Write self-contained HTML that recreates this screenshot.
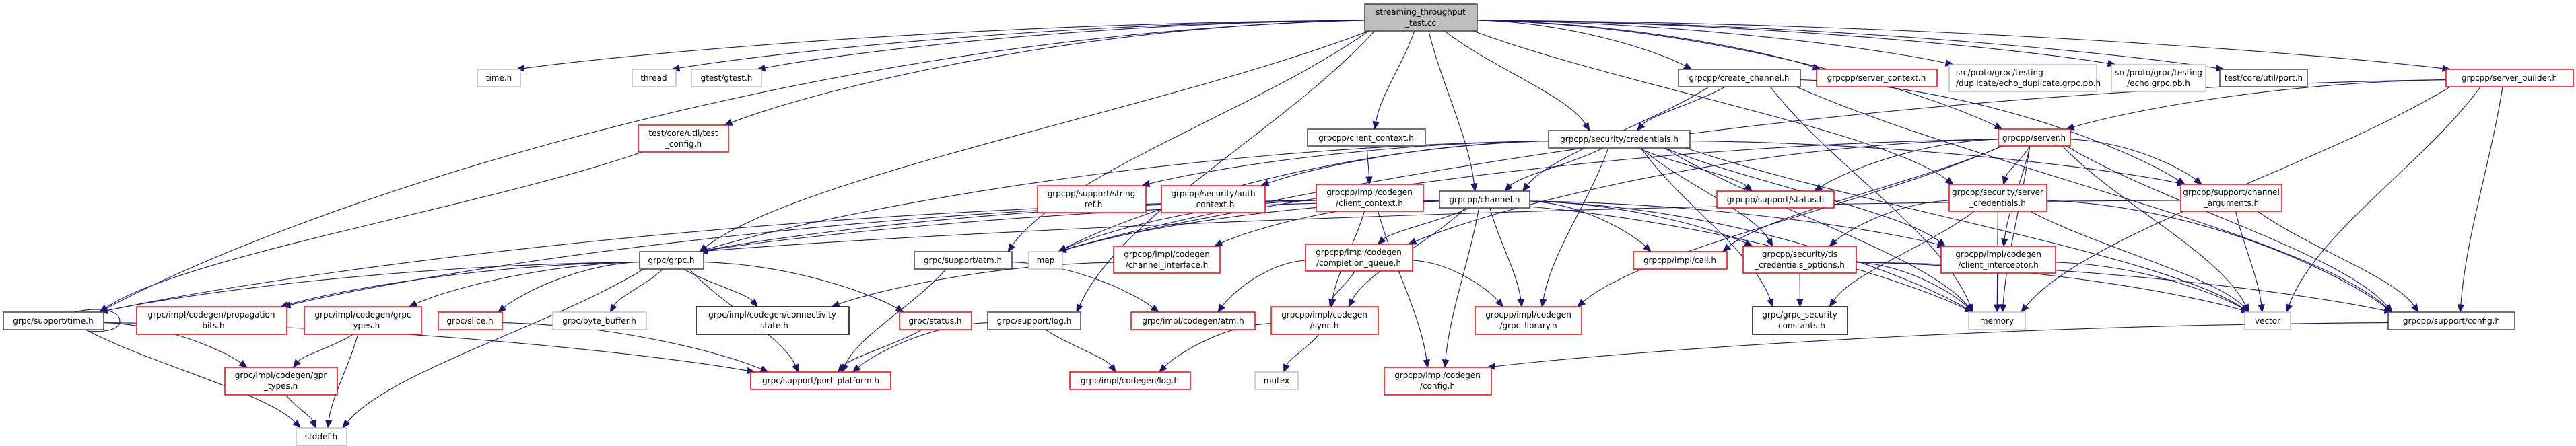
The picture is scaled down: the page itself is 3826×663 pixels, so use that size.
<!DOCTYPE html>
<html><head><meta charset="utf-8">
<style>
html,body{margin:0;padding:0;background:#fff;}
svg{display:block;}
text{font-family:"DejaVu Sans","Liberation Sans",sans-serif;font-size:12px;fill:#000;}
</style></head>
<body>
<svg id="g" width="3826" height="663" viewBox="0 0 3826 663" xmlns="http://www.w3.org/2000/svg">
<g id="edges" fill="none" stroke="#191970" stroke-width="1.1"></g>
<g id="heads" fill="#191970" stroke="#191970"></g>
<g id="nodes" stroke-width="1.5">
<rect x="2027" y="6" width="167" height="40" fill="#bfbfbf" stroke="#404040"/>
<text x="2110" y="22" text-anchor="middle">streaming_throughput</text>
<text x="2110" y="38" text-anchor="middle">_test.cc</text>

<rect x="709" y="103" width="64" height="26" fill="#fff" stroke="#bfbfbf"/><text x="741" y="120" text-anchor="middle">time.h</text>
<rect x="939" y="103" width="65" height="26" fill="#fff" stroke="#bfbfbf"/><text x="971" y="120" text-anchor="middle">thread</text>
<rect x="1027" y="103" width="104" height="26" fill="#fff" stroke="#bfbfbf"/><text x="1079" y="120" text-anchor="middle">gtest/gtest.h</text>

<rect x="948" y="186" width="134" height="40" fill="#fff" stroke="#ff0000"/>
<text x="1015" y="202" text-anchor="middle">test/core/util/test</text><text x="1015" y="218" text-anchor="middle">_config.h</text>

<rect x="950" y="374" width="95" height="26" fill="#fff" stroke="#404040"/><text x="997" y="391" text-anchor="middle">grpc/grpc.h</text>
<rect x="5" y="464" width="149" height="26" fill="#fff" stroke="#404040"/><text x="79" y="481" text-anchor="middle">grpc/support/time.h</text>
<rect x="203" y="456" width="223" height="41" fill="#fff" stroke="#ff0000"/>
<text x="314" y="472" text-anchor="middle">grpc/impl/codegen/propagation</text><text x="314" y="488" text-anchor="middle">_bits.h</text>
<rect x="452" y="456" width="174" height="41" fill="#fff" stroke="#ff0000"/>
<text x="539" y="472" text-anchor="middle">grpc/impl/codegen/grpc</text><text x="539" y="488" text-anchor="middle">_types.h</text>
<rect x="651" y="464" width="95" height="26" fill="#fff" stroke="#ff0000"/><text x="698" y="481" text-anchor="middle">grpc/slice.h</text>
<rect x="821" y="464" width="139" height="26" fill="#fff" stroke="#bfbfbf"/><text x="890" y="481" text-anchor="middle">grpc/byte_buffer.h</text>
<rect x="334" y="546" width="167" height="41" fill="#fff" stroke="#ff0000"/>
<text x="417" y="562" text-anchor="middle">grpc/impl/codegen/gpr</text><text x="417" y="578" text-anchor="middle">_types.h</text>
<rect x="440" y="636" width="75" height="26" fill="#fff" stroke="#bfbfbf"/><text x="477" y="653" text-anchor="middle">stddef.h</text>

<rect x="1358" y="374" width="145" height="26" fill="#fff" stroke="#404040"/><text x="1430" y="391" text-anchor="middle">grpc/support/atm.h</text>
<rect x="1528" y="374" width="50" height="26" fill="#fff" stroke="#bfbfbf"/><text x="1553" y="391" text-anchor="middle">map</text>
<rect x="1541" y="276" width="161" height="40" fill="#fff" stroke="#ff0000"/>
<text x="1621" y="292" text-anchor="middle">grpcpp/support/string</text><text x="1621" y="308" text-anchor="middle">_ref.h</text>
<rect x="1725" y="276" width="154" height="40" fill="#fff" stroke="#ff0000"/>
<text x="1802" y="292" text-anchor="middle">grpcpp/security/auth</text><text x="1802" y="308" text-anchor="middle">_context.h</text>
<rect x="1955" y="274" width="159" height="40" fill="#fff" stroke="#ff0000"/>
<text x="2034" y="290" text-anchor="middle">grpcpp/impl/codegen</text><text x="2034" y="306" text-anchor="middle">/client_context.h</text>
<rect x="1942" y="192" width="175" height="25" fill="#fff" stroke="#404040"/><text x="2029" y="209" text-anchor="middle">grpcpp/client_context.h</text>
<rect x="1654" y="366" width="158" height="40" fill="#fff" stroke="#ff0000"/>
<text x="1733" y="382" text-anchor="middle">grpcpp/impl/codegen</text><text x="1733" y="398" text-anchor="middle">/channel_interface.h</text>
<rect x="1939" y="363" width="159" height="40" fill="#fff" stroke="#ff0000"/>
<text x="2018" y="379" text-anchor="middle">grpcpp/impl/codegen</text><text x="2018" y="395" text-anchor="middle">/completion_queue.h</text>
<rect x="1034" y="456" width="227" height="41" fill="#fff" stroke="#000"/>
<text x="1147" y="472" text-anchor="middle">grpc/impl/codegen/connectivity</text><text x="1147" y="488" text-anchor="middle">_state.h</text>
<rect x="1336" y="464" width="107" height="26" fill="#fff" stroke="#ff0000"/><text x="1389" y="481" text-anchor="middle">grpc/status.h</text>
<rect x="1467" y="464" width="138" height="26" fill="#fff" stroke="#404040"/><text x="1536" y="481" text-anchor="middle">grpc/support/log.h</text>
<rect x="1680" y="464" width="184" height="26" fill="#fff" stroke="#ff0000"/><text x="1772" y="481" text-anchor="middle">grpc/impl/codegen/atm.h</text>
<rect x="1888" y="456" width="159" height="41" fill="#fff" stroke="#ff0000"/>
<text x="1967" y="472" text-anchor="middle">grpcpp/impl/codegen</text><text x="1967" y="488" text-anchor="middle">/sync.h</text>
<rect x="1115" y="553" width="208" height="26" fill="#fff" stroke="#ff0000"/><text x="1219" y="570" text-anchor="middle">grpc/support/port_platform.h</text>
<rect x="1589" y="553" width="179" height="26" fill="#fff" stroke="#ff0000"/><text x="1678" y="570" text-anchor="middle">grpc/impl/codegen/log.h</text>
<rect x="1864" y="553" width="64" height="26" fill="#fff" stroke="#bfbfbf"/><text x="1896" y="570" text-anchor="middle">mutex</text>

<rect x="2493" y="103" width="181" height="26" fill="#fff" stroke="#404040"/><text x="2583" y="120" text-anchor="middle">grpcpp/create_channel.h</text>
<rect x="2698" y="103" width="179" height="26" fill="#fff" stroke="#ff0000"/><text x="2787" y="120" text-anchor="middle">grpcpp/server_context.h</text>
<rect x="2895" y="96" width="219" height="40" fill="#fff" stroke="#bfbfbf"/>
<text x="2905" y="112">src/proto/grpc/testing</text><text x="2905" y="128">/duplicate/echo_duplicate.grpc.pb.h</text>
<rect x="3136" y="96" width="140" height="40" fill="#fff" stroke="#bfbfbf"/>
<text x="3206" y="112" text-anchor="middle">src/proto/grpc/testing</text><text x="3206" y="128" text-anchor="middle">/echo.grpc.pb.h</text>
<rect x="3297" y="103" width="130" height="26" fill="#fff" stroke="#404040"/><text x="3362" y="120" text-anchor="middle">test/core/util/port.h</text>
<rect x="3633" y="103" width="189" height="26" fill="#fff" stroke="#ff0000"/><text x="3727" y="120" text-anchor="middle">grpcpp/server_builder.h</text>

<rect x="2300" y="194" width="210" height="26" fill="#fff" stroke="#404040"/><text x="2405" y="211" text-anchor="middle">grpcpp/security/credentials.h</text>
<rect x="2968" y="192" width="107" height="25" fill="#fff" stroke="#ff0000"/><text x="3021" y="209" text-anchor="middle">grpcpp/server.h</text>
<rect x="2138" y="284" width="134" height="25" fill="#fff" stroke="#404040"/><text x="2205" y="301" text-anchor="middle">grpcpp/channel.h</text>
<rect x="2550" y="284" width="174" height="25" fill="#fff" stroke="#ff0000"/><text x="2637" y="301" text-anchor="middle">grpcpp/support/status.h</text>
<rect x="2895" y="274" width="145" height="40" fill="#fff" stroke="#ff0000"/>
<text x="2967" y="290" text-anchor="middle">grpcpp/security/server</text><text x="2967" y="306" text-anchor="middle">_credentials.h</text>
<rect x="3239" y="274" width="150" height="40" fill="#fff" stroke="#ff0000"/>
<text x="3314" y="290" text-anchor="middle">grpcpp/support/channel</text><text x="3314" y="306" text-anchor="middle">_arguments.h</text>
<rect x="2426" y="374" width="139" height="26" fill="#fff" stroke="#ff0000"/><text x="2495" y="391" text-anchor="middle">grpcpp/impl/call.h</text>
<rect x="2589" y="366" width="168" height="40" fill="#fff" stroke="#ff0000"/>
<text x="2673" y="382" text-anchor="middle">grpcpp/security/tls</text><text x="2673" y="398" text-anchor="middle">_credentials_options.h</text>
<rect x="2883" y="366" width="170" height="40" fill="#fff" stroke="#ff0000"/>
<text x="2968" y="382" text-anchor="middle">grpcpp/impl/codegen</text><text x="2968" y="398" text-anchor="middle">/client_interceptor.h</text>
<rect x="2191" y="456" width="158" height="41" fill="#fff" stroke="#ff0000"/>
<text x="2270" y="472" text-anchor="middle">grpcpp/impl/codegen</text><text x="2270" y="488" text-anchor="middle">/grpc_library.h</text>
<rect x="2603" y="456" width="141" height="41" fill="#fff" stroke="#000"/>
<text x="2673" y="472" text-anchor="middle">grpc/grpc_security</text><text x="2673" y="488" text-anchor="middle">_constants.h</text>
<rect x="2924" y="464" width="84" height="26" fill="#fff" stroke="#bfbfbf"/><text x="2966" y="481" text-anchor="middle">memory</text>
<rect x="3334" y="464" width="68" height="26" fill="#fff" stroke="#bfbfbf"/><text x="3368" y="481" text-anchor="middle">vector</text>
<rect x="3547" y="464" width="188" height="26" fill="#fff" stroke="#404040"/><text x="3641" y="481" text-anchor="middle">grpcpp/support/config.h</text>
<rect x="2056" y="546" width="159" height="41" fill="#fff" stroke="#ff0000"/>
<text x="2135" y="562" text-anchor="middle">grpcpp/impl/codegen</text><text x="2135" y="578" text-anchor="middle">/config.h</text>
</g>
</svg>
<script>
var N={
M:[2027,6,167,40],timeh:[709,103,64,26],thread:[939,103,65,26],gtest:[1027,103,104,26],tcfg:[948,186,134,40],
grpch:[950,374,95,26],stime:[5,464,149,26],prop:[203,456,223,41],gtypes:[452,456,174,41],slice:[651,464,95,26],
bb:[821,464,139,26],gpr:[334,546,167,41],stddef:[440,636,75,26],satm:[1358,374,145,26],map:[1528,374,50,26],
sref:[1541,276,161,40],auth:[1725,276,154,40],ccc:[1955,274,159,40],cc:[1942,192,175,25],chif:[1654,366,158,40],
cq:[1939,363,159,40],conn:[1034,456,227,41],status:[1336,464,107,26],slog:[1467,464,138,26],catm:[1680,464,184,26],
sync:[1888,456,159,41],pp:[1115,553,208,26],clog:[1589,553,179,26],mutex:[1864,553,64,26],
cch:[2493,103,181,26],sctx:[2698,103,179,26],edup:[2895,96,219,40],echo:[3136,96,140,40],port:[3297,103,130,26],
sb:[3633,103,189,26],cred:[2300,194,210,26],server:[2968,192,107,25],chan:[2138,284,134,25],sstat:[2550,284,174,25],
scred:[2895,274,145,40],cargs:[3239,274,150,40],call:[2426,374,139,26],tls:[2589,366,168,40],ci:[2883,366,170,40],
glib:[2191,456,158,41],gsc:[2603,456,141,41],memory:[2924,464,84,26],vector:[3334,464,68,26],sconf:[3547,464,188,26],
cconf:[2056,546,159,41]};
var E=[
["M","timeh"],["M","thread"],["M","gtest"],["M","tcfg"],["M","grpch"],["M","stime"],["M","slog"],["M","satm"],
["M","cc"],["M","chan"],["M","cred"],["M","cch"],["M","sctx"],["M","edup"],["M","echo"],["M","port"],["M","sb"],
["M","server"],["M","scred"],
["tcfg","stime"],
["grpch","stime"],["grpch","prop"],["grpch","gtypes"],["grpch","slice"],["grpch","bb"],["grpch","stddef"],
["grpch","conn"],["grpch","status"],["grpch","pp"],
["stime","gpr"],["stime","stddef"],["stime","pp"],["gtypes","gpr"],["gtypes","stddef"],["gpr","stddef"],
["slice","pp"],["status","pp"],["slog","pp"],["slog","clog"],["satm","pp"],["satm","catm"],
["cc","ccc"],["ccc","grpch"],["ccc","map"],["ccc","sync"],["ccc","memory"],["ccc","stime"],["ccc","prop"],
["chan","grpch"],["chan","map"],["chan","chif"],["chan","cq"],["chan","call"],["chan","glib"],["chan","cconf"],
["chan","memory"],["chan","ci"],["chan","sync"],["chan","tls"],
["cred","chan"],["cred","sref"],["cred","auth"],["cred","map"],["cred","grpch"],["cred","sstat"],["cred","glib"],
["cred","gsc"],["cred","tls"],["cred","ci"],["cred","memory"],["cred","vector"],["cred","cargs"],
["cch","cred"],["cch","chan"],["cch","memory"],["cch","cargs"],["cch","sconf"],
["server","cq"],["server","call"],["server","scred"],["server","cargs"],["server","ci"],["server","memory"],
["server","vector"],["server","sconf"],["server","glib"],["server","sstat"],["server","map"],
["sb","server"],["sb","memory"],["sb","vector"],["sb","sconf"],["sb","map"],
["scred","tls"],["scred","gsc"],["scred","memory"],["scred","vector"],["scred","sconf"],
["cargs","grpch"],["cargs","vector"],["cargs","sconf"],
["tls","gsc"],["tls","memory"],["tls","vector"],["tls","sconf"],
["ci","memory"],["ci","vector"],
["cq","catm"],["cq","sync"],["cq","glib"],
["chif","conn"],["sync","clog"],["sync","mutex"],["sconf","cconf"],["ccc","cconf"]];
var eg=document.getElementById("edges"),hg=document.getElementById("heads"),ns="http://www.w3.org/2000/svg";
function cl(v,a,b){return Math.max(a,Math.min(b,v));}
E.forEach(function(e){
 var s=N[e[0]],t=N[e[1]];
 var scx=s[0]+s[2]/2,tcx=t[0]+t[2]/2;
 var sx=cl(scx+(tcx-scx)*0.12,s[0]+6,s[0]+s[2]-6),sy=s[1]+s[3];
 var tx=cl(tcx+(scx-tcx)*0.15,t[0]+6,t[0]+t[2]-6),ty=t[1];
 var dy=ty-sy, c1x,c1y,c2x,c2y;
 var side=false;
 if(dy<20){
   if(tcx<scx){sx=s[0];tx=t[0]+t[2];}else{sx=s[0]+s[2];tx=t[0];}
   sy=s[1]+s[3]/2;ty=t[1]+t[3]/2;dy=ty-sy;side=true;
 } else if(Math.abs(tcx-scx)>4*dy && (tcx<s[0]||tcx>s[0]+s[2])){
   sx=(tcx<scx)?s[0]:s[0]+s[2]; sy=s[1]+s[3]*0.6; dy=ty-sy;side=true;
 }
 if(side){
   c1x=sx+(tx-sx)*0.45;c1y=sy+dy*0.05;c2x=tx+(sx-tx)*0.15;c2y=ty-dy*0.35;
 } else {
   c1x=sx+(tx-sx)*0.3;c1y=sy+dy*0.35;c2x=tx-(tx-sx)*0.15;c2y=ty-Math.max(dy*0.35,10);
 }
 var dx=tx-c2x,ddy=ty-c2y,L=Math.sqrt(dx*dx+ddy*ddy)||1;dx/=L;ddy/=L;
 var bx=tx-dx*11,by=ty-ddy*11;
 var p=document.createElementNS(ns,"path");
 p.setAttribute("d","M"+sx+","+sy+" C"+c1x+","+c1y+" "+c2x+","+c2y+" "+bx+","+by);
 eg.appendChild(p);
 var h=document.createElementNS(ns,"polygon");
 h.setAttribute("points",tx+","+ty+" "+(bx-ddy*4.5)+","+(by+dx*4.5)+" "+(bx+ddy*4.5)+","+(by-dx*4.5));
 hg.appendChild(h);
});
var lp=document.createElementNS(ns,"path");
lp.setAttribute("d","M110,464 C150,455 178,462 178,477 C178,492 150,494 130,492");
eg.appendChild(lp);
</script>
</body></html>
